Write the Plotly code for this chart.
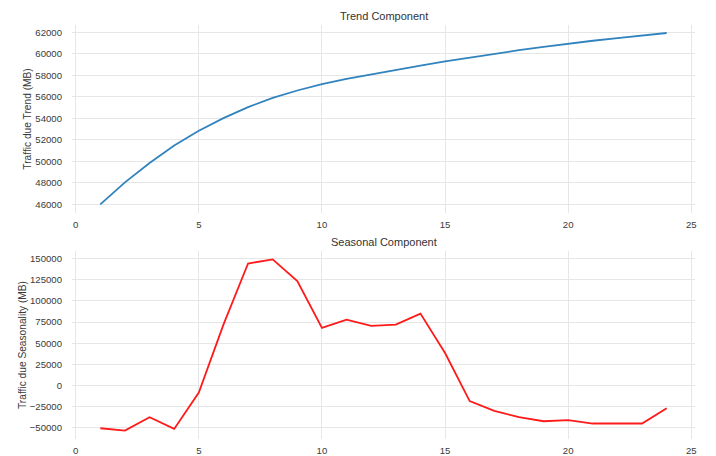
import plotly.graph_objects as go
from plotly.subplots import make_subplots

# Time index (1..24)
periods = list(range(1, 25))

# Trend component of traffic (MB)
trend_mb = [46000, 48050, 49850, 51490, 52850, 54030, 55050, 55920, 56600, 57190,
            57690, 58120, 58500, 58920, 59320, 59680, 60020, 60350, 60660, 60960,
            61230, 61480, 61720, 61950]

# Seasonal component of traffic (MB)
seasonal_mb = [-50800, -53500, -37700, -51600, -8400, 72000, 144400, 149200, 123500, 68000,
               77900, 70400, 71950, 85000, 38300, -18700, -30200, -37700, -42500, -41300,
               -45200, -45200, -45200, -27000]

# Axis ticks
x_ticks = [0, 5, 10, 15, 20, 25]
trend_ticks = [46000, 48000, 50000, 52000, 54000, 56000, 58000, 60000, 62000]
seasonal_ticks = [-50000, -25000, 0, 25000, 50000, 75000, 100000, 125000, 150000]


def label(v):
    return ("\u2212" + str(-v)) if v < 0 else str(v)


FONT = "Liberation Sans, Arial, sans-serif"
GRID = "#e6e6e6"
TICK_FONT = dict(family=FONT, size=9.6, color="#3a3a3a")

fig = make_subplots(rows=2, cols=1, vertical_spacing=0.092)

fig.add_trace(go.Scatter(x=periods, y=trend_mb, mode="lines",
                         line=dict(color="#3183be", width=1.8), showlegend=False),
              row=1, col=1)
fig.add_trace(go.Scatter(x=periods, y=seasonal_mb, mode="lines",
                         line=dict(color="#ff1a1a", width=1.8), showlegend=False),
              row=2, col=1)

x_common = dict(range=[-0.15, 25.15], tickvals=x_ticks, ticktext=[str(t) for t in x_ticks],
                showgrid=True, gridcolor=GRID, gridwidth=1, zeroline=False,
                showline=False, ticks="", tickfont=TICK_FONT, ticklabelstandoff=4,
                automargin=False)
fig.update_xaxes(**x_common, row=1, col=1)
fig.update_xaxes(**x_common, row=2, col=1)

y_common = dict(showgrid=True, gridcolor=GRID, gridwidth=1, zeroline=False,
                showline=False, ticks="", tickfont=TICK_FONT, ticklabelstandoff=9,
                automargin=False)
fig.update_yaxes(**y_common, range=[45205, 62695], tickvals=trend_ticks,
                 ticktext=[label(t) for t in trend_ticks],
                 title=dict(text="Traffic due Trend (MB)",
                            font=dict(family=FONT, size=10.2, color="#3a3a3a"),
                            standoff=1),
                 row=1, col=1)
fig.update_yaxes(**y_common, range=[-63540, 159150], tickvals=seasonal_ticks,
                 ticktext=[label(t) for t in seasonal_ticks],
                 title=dict(text="Traffic due Seasonality (MB)",
                            font=dict(family=FONT, size=10.2, color="#3a3a3a"),
                            standoff=1),
                 row=2, col=1)

fig.update_layout(
    width=716, height=456,
    margin=dict(l=72, r=21, t=25, b=17),
    paper_bgcolor="white", plot_bgcolor="white",
    font=dict(family=FONT),
    annotations=[
        dict(text="Trend Component", xref="paper", yref="paper", x=0.5, y=1,
             yshift=9, xanchor="center", yanchor="middle", showarrow=False,
             font=dict(family=FONT, size=11, color="#333333")),
        dict(text="Seasonal Component", xref="paper", yref="y2 domain", x=0.5, y=1,
             yshift=9, xanchor="center", yanchor="middle", showarrow=False,
             font=dict(family=FONT, size=11, color="#333333")),
    ],
)

fig.write_html("out.html")
